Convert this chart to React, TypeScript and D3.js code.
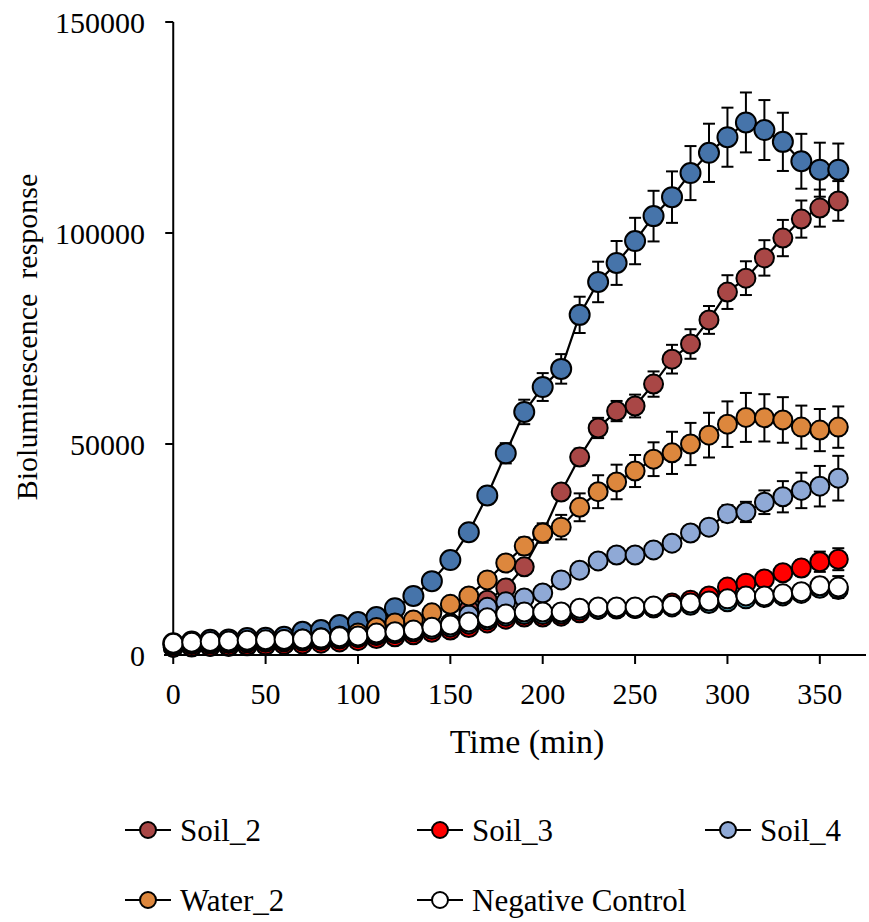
import React from 'react';
import * as d3 from 'd3';

// sampling times (min)
const times = [0, 10, 20, 30, 40, 50, 60, 70, 80, 90, 100, 110, 120, 130, 140, 150, 160, 170, 180, 190, 200, 210, 220, 230, 240, 250, 260, 270, 280, 290, 300, 310, 320, 330, 340, 350, 360];

const soil1 = [2800, 3200, 3600, 3700, 4000, 4100, 4300, 5500, 5900, 7100, 7800, 9000, 11100, 14000, 17500, 22500, 29100, 37800, 47800, 57600, 63500, 67800, 80600, 88400, 92900, 98100, 104000, 108500, 114200, 119000, 122700, 126200, 124400, 121600, 117000, 115000, 115000];
const soil1Err = [300, 300, 300, 300, 300, 300, 400, 400, 500, 500, 600, 700, 800, 900, 1100, 1300, 1600, 2000, 2400, 2900, 3300, 3500, 4300, 4800, 5200, 5500, 6000, 6100, 6400, 6900, 7000, 7100, 7100, 6900, 6500, 6400, 6200];

const soil2 = [1800, 1900, 2000, 2000, 2200, 2300, 2500, 2700, 3000, 3500, 3900, 4400, 4900, 5400, 6000, 7500, 10700, 13000, 15900, 20900, 28900, 38600, 46900, 53800, 57800, 59000, 64200, 70100, 73700, 79400, 86000, 89300, 94100, 98800, 103300, 105900, 107600];
const soil2Err = [200, 200, 200, 200, 200, 200, 200, 200, 300, 300, 300, 400, 400, 500, 500, 600, 800, 900, 1100, 1300, 1600, 1800, 2000, 2400, 2400, 2700, 3000, 3400, 3500, 3300, 4000, 4000, 4200, 4300, 4400, 4400, 4700];

const soil3 = [1900, 2000, 2100, 2200, 2300, 2400, 2500, 2600, 2800, 3100, 3400, 3900, 4300, 4800, 5400, 5900, 6500, 7600, 8500, 9000, 9000, 9200, 10000, 10800, 10900, 11000, 11200, 12300, 13000, 14000, 16100, 17000, 18000, 19500, 20600, 22100, 22700];
const soil3Err = [200, 200, 200, 200, 200, 200, 200, 200, 300, 300, 300, 300, 400, 400, 400, 500, 500, 600, 700, 700, 700, 800, 800, 900, 900, 900, 1000, 1000, 1100, 1200, 1300, 1400, 1500, 1700, 1900, 2400, 2600];

const soil4 = [2300, 2500, 2600, 2700, 2900, 3000, 3100, 3300, 3500, 3800, 4100, 4600, 5100, 5700, 6400, 7500, 9500, 11300, 12600, 13500, 14700, 17800, 20100, 22300, 23700, 23700, 24900, 26500, 28900, 30300, 33500, 33900, 36200, 37500, 39000, 40000, 41900];
const soil4Err = [200, 200, 200, 200, 200, 200, 200, 300, 300, 300, 300, 400, 400, 500, 500, 600, 700, 800, 900, 1000, 1000, 1100, 1200, 1300, 1400, 1400, 1500, 1600, 1700, 1800, 2000, 2400, 2800, 3700, 4200, 4800, 5300];

const water1 = [2500, 2700, 2900, 3000, 3200, 3300, 3400, 3500, 3700, 4000, 4200, 4800, 5100, 5500, 6100, 6600, 7300, 8300, 9200, 9600, 9600, 9700, 10600, 10900, 11000, 11000, 11200, 11400, 11800, 12200, 12600, 13300, 13600, 14000, 14600, 15800, 15500];
const water1Err = [200, 200, 200, 200, 200, 200, 200, 200, 200, 300, 300, 300, 300, 300, 400, 400, 400, 500, 500, 500, 500, 600, 600, 600, 700, 700, 700, 700, 800, 800, 900, 900, 1000, 1000, 1100, 1200, 1300];

const water2 = [2600, 2800, 3000, 3100, 3300, 3400, 3600, 3800, 4100, 4500, 5200, 6500, 7600, 8300, 10000, 12000, 14000, 17800, 21800, 25800, 28900, 30300, 35000, 38700, 41000, 43600, 46400, 47900, 50000, 52100, 54700, 56300, 56200, 55700, 54000, 53300, 54000];
const water2Err = [200, 200, 200, 200, 200, 200, 300, 300, 300, 400, 400, 500, 500, 600, 700, 800, 1000, 1300, 1800, 2000, 2300, 2900, 3300, 3900, 4100, 3800, 4000, 5000, 5000, 5300, 5400, 5800, 5600, 5400, 5100, 5000, 4900];

const negative = [2800, 3000, 3200, 3300, 3500, 3600, 3700, 3800, 4000, 4300, 4500, 5200, 5500, 5900, 6600, 7100, 7800, 8800, 9700, 10200, 10200, 10200, 11100, 11400, 11400, 11400, 11600, 11800, 12300, 12800, 13300, 14000, 14000, 14500, 15000, 16400, 16100];
const negativeErr = [200, 200, 200, 200, 200, 200, 200, 200, 200, 300, 300, 300, 300, 300, 400, 400, 400, 500, 500, 500, 500, 600, 600, 600, 700, 700, 700, 700, 800, 800, 900, 900, 1000, 1100, 1300, 1900, 2600];

const xTicks = [0, 50, 100, 150, 200, 250, 300, 350];
const yTicks = [0, 50000, 100000, 150000];

const series = [
  {name: 'Soil_1', values: soil1, err: soil1Err, color: '#4674AA', r: 10, legend: null},
  {name: 'Soil_2', values: soil2, err: soil2Err, color: '#A94746', r: 9.5, legend: [0, 0]},
  {name: 'Soil_3', values: soil3, err: soil3Err, color: '#FF0000', r: 9.5, legend: [1, 0]},
  {name: 'Soil_4', values: soil4, err: soil4Err, color: '#8FA9D6', r: 9.5, legend: [2, 0]},
  {name: 'Water_1', values: water1, err: water1Err, color: '#4BA3B8', r: 9.5, legend: null},
  {name: 'Water_2', values: water2, err: water2Err, color: '#DD873D', r: 9.5, legend: [0, 1]},
  {name: 'Negative Control', values: negative, err: negativeErr, color: '#FFFFFF', r: 9.5, legend: [1, 1]},
];

const FONT = '"Liberation Serif", "Times New Roman", serif';

const x = d3.scaleLinear().domain([-5, 375]).range([164, 866]);
const y = d3.scaleLinear().domain([0, 150000]).range([655, 22]);

const legendX = [148, 440, 728];
const legendY = [830, 900];

export default function App() {
  const line = d3.line<number>()
    .x((_, i) => x(times[i]))
    .y(d => y(d));

  return (
    <svg
      width={869}
      height={922}
      style={{position: 'absolute', left: 0, top: 0, background: '#fff'}}
      fontFamily={FONT}>
      {/* x axis */}
      <line x1={x(-5)} x2={x(375)} y1={y(0)} y2={y(0)} stroke="#000" strokeWidth={2} />
      {xTicks.map(t => (
        <g key={t}>
          <line x1={x(t)} x2={x(t)} y1={y(0)} y2={y(0) + 9} stroke="#000" strokeWidth={2} />
          <text x={x(t)} y={704} fontSize={30} textAnchor="middle">{t}</text>
        </g>
      ))}
      <text x={527} y={753} fontSize={34} textAnchor="middle">Time (min)</text>

      {/* y axis */}
      <line x1={x(0)} x2={x(0)} y1={y(0) + 1} y2={y(150000)} stroke="#000" strokeWidth={2} />
      {yTicks.map(t => (
        <g key={t}>
          <line x1={x(0) - 8} x2={x(0)} y1={y(t)} y2={y(t)} stroke="#000" strokeWidth={2} />
          <text x={145} y={y(t) + 11} fontSize={30} textAnchor="end">{t}</text>
        </g>
      ))}
      <text
        transform={`translate(37, 337) rotate(-90)`}
        fontSize={30}
        textAnchor="middle"
        style={{whiteSpace: 'pre'}}>
        {'Bioluminescence  response'}
      </text>

      {/* series */}
      {series.map(s => (
        <g key={s.name}>
          <path d={line(s.values) || ''} fill="none" stroke="#000" strokeWidth={2.2} />
          {s.values.map((v, i) => {
            const cx = x(times[i]);
            const top = y(v + s.err[i]);
            const bot = y(v - s.err[i]);
            return (
              <g key={i} stroke="#000" strokeWidth={2}>
                <line x1={cx} x2={cx} y1={top} y2={bot} />
                <line x1={cx - 6} x2={cx + 6} y1={top} y2={top} />
                <line x1={cx - 6} x2={cx + 6} y1={bot} y2={bot} />
              </g>
            );
          })}
          {s.values.map((v, i) => (
            <circle
              key={i}
              cx={x(times[i])}
              cy={y(v)}
              r={s.r}
              fill={s.color}
              stroke="#000"
              strokeWidth={2}
            />
          ))}
        </g>
      ))}

      {/* legend */}
      {series.filter(s => s.legend).map(s => {
        const [c, r] = s.legend as number[];
        const lx = legendX[c];
        const ly = legendY[r];
        return (
          <g key={s.name}>
            <line x1={lx - 23} x2={lx + 23} y1={ly} y2={ly} stroke="#000" strokeWidth={2.2} />
            <circle cx={lx} cy={ly} r={8} fill={s.color} stroke="#000" strokeWidth={2} />
            <text x={lx + 32} y={ly + 11} fontSize={31}>{s.name}</text>
          </g>
        );
      })}
    </svg>
  );
}
